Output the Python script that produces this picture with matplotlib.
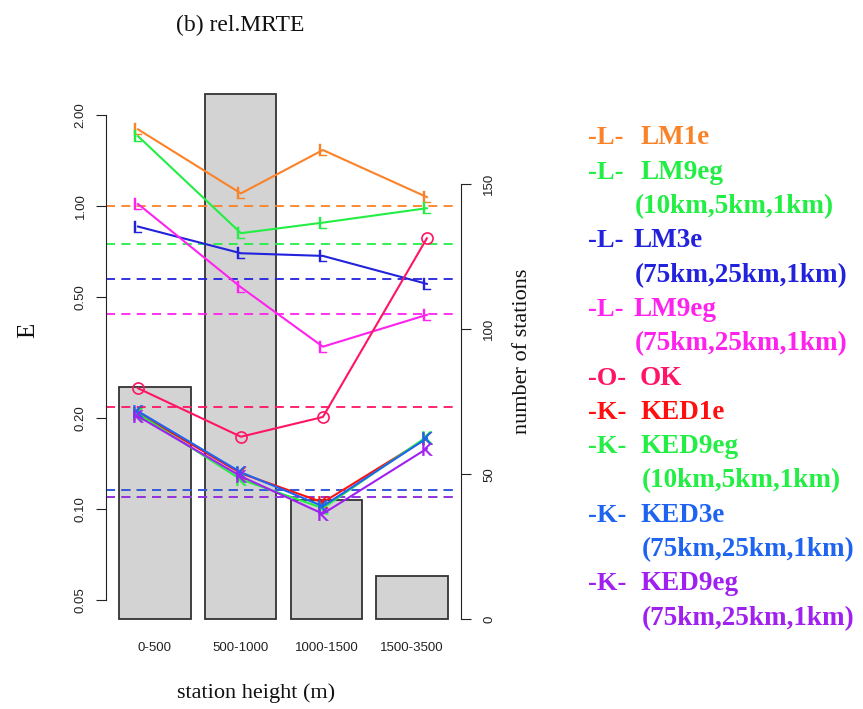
import matplotlib
matplotlib.use("Agg")
import matplotlib.pyplot as plt

# ---------------- data ----------------
categories = ["0-500", "500-1000", "1000-1500", "1500-3500"]
n_stations = [80, 181, 41, 15]

series_names = ["LM1e", "LM9eg", "LM3e", "LM9eg", "OK", "KED1e", "KED9eg", "KED3e", "KED9eg"]
series_sub = ["", "(10km,5km,1km)", "(75km,25km,1km)", "(75km,25km,1km)", "",
              "", "(10km,5km,1km)", "(75km,25km,1km)", "(75km,25km,1km)"]
series_prefix = ["-L-", "-L-", "-L-", "-L-", "-O-", "-K-", "-K-", "-K-", "-K-"]
series_colors = ["#FA8228", "#22EE44", "#2222DD", "#FF22EE", "#FF1466",
                 "#FF1010", "#22EE44", "#1E64F0", "#A020F0"]

lm1e = [1.79, 1.10, 1.53, 1.07]
lm9eg_10 = [1.70, 0.813, 0.881, 0.983]
lm3e = [0.855, 0.698, 0.684, 0.553]
lm9eg_75 = [1.015, 0.539, 0.343, 0.437]
ok = [0.250, 0.173, 0.201, 0.782]
ked1e = [0.207, 0.131, 0.105, 0.171]
ked9eg_10 = [0.206, 0.125, 0.1005, 0.173]
ked3e = [0.210, 0.132, 0.102, 0.171]
ked9eg_75 = [0.202, 0.128, 0.0963, 0.158]

overall = [1.00, 0.747, 0.574, 0.439, 0.217, 0.115, 0.109, 0.115, 0.109]

left_ticks = [0.05, 0.10, 0.20, 0.50, 1.00, 2.00]
left_ticklabels = ["0.05", "0.10", "0.20", "0.50", "1.00", "2.00"]
right_ticks = [0, 50, 100, 150]

# ---------------- layout ----------------
W, H = 863, 709
bar_pos = [0.7, 1.9, 3.1, 4.3]
line_pos = [0.464, 1.904, 3.051, 4.506]
markers = ["L", "L", "L", "L", "o", "K", "K", "K", "K"]

def fx(px):
    return px / W

def fy(py):
    return 1 - py / H

fig = plt.figure(figsize=(W / 100, H / 100), dpi=100)
rect = [fx(106), fy(645), 355 / W, 571 / H]
ax2 = fig.add_axes(rect)
ax = fig.add_axes(rect)

# bars (station counts)
ax2.bar(bar_pos, n_stations, width=1.0, color="#D3D3D3", edgecolor="#333333",
        linewidth=1.3, zorder=1)
ax2.set_xlim(0.016, 4.984)
ax2.set_ylim(-8.86, 188.03)
for s in ["top", "left", "bottom"]:
    ax2.spines[s].set_visible(False)
ax2.spines["right"].set_bounds(0, 150)
ax2.spines["right"].set_color("#222222")
ax2.yaxis.tick_right()
ax2.set_yticks(right_ticks)
ax2.set_yticklabels([str(t) for t in right_ticks], rotation=90, va="center",
                    fontsize=9.5, family="Liberation Sans", color="#222222")
ax2.tick_params(axis="y", length=7, pad=9, colors="#222222")
ax2.set_xticks(bar_pos)
ax2.set_xticklabels(categories, fontsize=9.5, family="Liberation Sans", color="#222222")
ax2.tick_params(axis="x", length=0, pad=-2)

# lines (errors, log scale)
ax.set_zorder(ax2.get_zorder() + 1)
ax.patch.set_visible(False)
ax.set_yscale("log")
ax.set_xlim(0.016, 4.984)
ax.set_ylim(0.03551, 2.727)

all_series = [lm1e, lm9eg_10, lm3e, lm9eg_75, ok, ked1e, ked9eg_10, ked3e, ked9eg_75]
# overall dashed lines first
hline_order = [5, 6, 0, 1, 2, 3, 4, 7, 8]
for i in hline_order:
    ax.plot([0.016, 4.92], [overall[i], overall[i]], color=series_colors[i],
            lw=1.3, linestyle=(0, (5, 3.5)), zorder=2)

for i, vals in enumerate(all_series):
    m = markers[i]
    if m == "o":
        ax.plot(line_pos, vals, color=series_colors[i], lw=1.5, marker="o",
                markersize=8, markerfacecolor="none", markeredgewidth=1.2, zorder=3)
    else:
        ax.plot(line_pos, vals, color=series_colors[i], lw=1.5,
                marker=r"$\mathrm{%s}$" % m, markersize=9, markeredgewidth=0.3, zorder=3)

for s in ["top", "right", "bottom"]:
    ax.spines[s].set_visible(False)
ax.spines["left"].set_bounds(0.05, 2.0)
ax.spines["left"].set_color("#222222")
ax.set_yticks(left_ticks)
ax.set_yticklabels(left_ticklabels, rotation=90, va="center",
                   fontsize=9.5, family="Liberation Sans", color="#222222")
ax.yaxis.set_minor_locator(matplotlib.ticker.NullLocator())
ax.tick_params(axis="y", length=7, pad=7, colors="#222222")
ax.set_xticks([])

# texts
serif = "Liberation Serif"
fig.text(fx(240), fy(25), "(b) rel.MRTE", ha="center", va="center",
         fontsize=17, family=serif, color="#111111")
fig.text(fx(256), fy(693), "station height (m)", ha="center", va="center",
         fontsize=16, family=serif, color="#111111")
fig.text(fx(28), fy(330), "E", ha="center", va="center", rotation=90,
         fontsize=18, family=serif, color="#111111")
fig.text(fx(522), fy(351), "number of stations", ha="center", va="center",
         rotation=90, fontsize=16, family=serif, color="#111111")

# legend as coloured text lines
y0, dy = 138, 34.3
row = 0
name_x = [640, 640, 633, 633, 640, 640, 640, 640, 640]
sub_x = [635, 635, 635, 635, 642, 642, 642, 642, 642]
for i in range(len(series_names)):
    c = series_colors[i]
    y = y0 + row * dy
    fig.text(fx(588), fy(y), series_prefix[i], ha="left", va="center",
             fontsize=19, family=serif, weight="bold", color=c)
    fig.text(fx(name_x[i]), fy(y), series_names[i], ha="left", va="center",
             fontsize=19.5, family=serif, weight="bold", color=c)
    row += 1
    if series_sub[i]:
        y = y0 + row * dy
        fig.text(fx(sub_x[i]), fy(y), series_sub[i], ha="left", va="center",
                 fontsize=19.5, family=serif, weight="bold", color=c)
        row += 1

fig.savefig("out.png", dpi=100)
